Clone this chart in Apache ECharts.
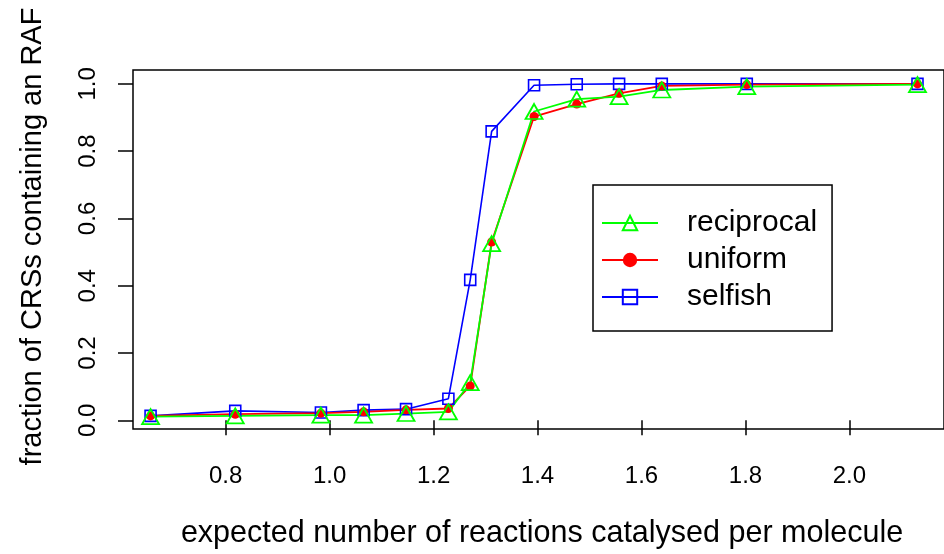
<!DOCTYPE html>
<html>
<head>
<meta charset="utf-8">
<title>RAF fraction</title>
<script src="https://cdn.jsdelivr.net/npm/echarts@6/dist/echarts.min.js"></script>
<style>
  html, body { margin: 0; padding: 0; background: #fff; }
  #main { width: 944px; height: 554px; }
</style>
</head>
<body>
<div id="main"></div>
<script>
// expected number of reactions catalysed per molecule
var xValues = [0.6556, 0.8185, 0.9833, 1.0654, 1.1470, 1.2285, 1.2705, 1.3117, 1.3933, 1.4754, 1.5569, 1.6390, 1.8025, 2.1309];
// fraction of CRSs containing an RAF
var reciprocal = [0.011, 0.013, 0.015, 0.015, 0.020, 0.025, 0.112, 0.525, 0.918, 0.955, 0.962, 0.982, 0.992, 0.998];
var uniform    = [0.013, 0.018, 0.021, 0.025, 0.031, 0.035, 0.102, 0.530, 0.903, 0.940, 0.972, 0.994, 0.998, 1.000];
var selfish    = [0.013, 0.028, 0.023, 0.030, 0.033, 0.064, 0.4175, 0.859, 0.996, 0.999, 1.000, 1.000, 1.000, 1.000];
var xTicks = [0.8, 1.0, 1.2, 1.4, 1.6, 1.8, 2.0];
var yTicks = [0.0, 0.2, 0.4, 0.6, 0.8, 1.0];

function pairs(ys) {
  return xValues.map(function (x, i) { return [x, ys[i]]; });
}

var font = 'Liberation Sans, Arial, sans-serif';

var option = {
  animation: false,
  textStyle: { fontFamily: font, color: '#000' },
  grid: {
    left: 133,
    top: 70,
    right: -6,
    bottom: 123.5,
    show: true,
    borderColor: '#000',
    borderWidth: 1.5
  },
  legend: {
    orient: 'vertical',
    left: 593,
    top: 185,
    padding: [23, 15, 19, 8],
    borderColor: '#000',
    borderWidth: 1.5,
    itemWidth: 56,
    itemHeight: 18,
    itemGap: 7,
    data: ['reciprocal', 'uniform', 'selfish'],
    textStyle: { fontFamily: font, fontSize: 30, lineHeight: 30, color: '#000', padding: [0, 0, 0, 24] }
  },
  xAxis: {
    type: 'value',
    min: 0.6218,
    max: 2.1819,
    name: 'expected number of reactions catalysed per molecule',
    nameLocation: 'middle',
    nameGap: 89,
    nameTextStyle: { fontFamily: font, fontSize: 30.5, color: '#000', padding: [0, 0, 0, 7] },
    axisLine: { show: false },
    splitLine: { show: false },
    axisTick: { show: true, length: 15, lineStyle: { color: '#000', width: 1.5 }, customValues: xTicks },
    axisLabel: {
      customValues: xTicks,
      margin: 35,
      fontSize: 24,
      color: '#000',
      formatter: function (v) { return v.toFixed(1); }
    }
  },
  yAxis: {
    type: 'value',
    min: -0.026,
    max: 1.0414,
    name: 'fraction of CRSs containing an RAF',
    nameLocation: 'middle',
    nameGap: 86,
    nameTextStyle: { fontFamily: font, fontSize: 29, color: '#000', padding: [0, 0, 0, 26] },
    axisLine: { show: false },
    splitLine: { show: false },
    axisTick: { show: true, length: 15, lineStyle: { color: '#000', width: 1.5 }, customValues: yTicks },
    axisLabel: {
      customValues: yTicks,
      rotate: 90,
      margin: 33,
      fontSize: 24,
      color: '#000',
      formatter: function (v) { return v.toFixed(1); }
    }
  },
  series: [
    {
      name: 'selfish',
      type: 'line',
      data: pairs(selfish),
      symbol: 'rect',
      symbolSize: 11,
      lineStyle: { color: '#0000ff', width: 1.6 },
      itemStyle: { color: 'rgba(0,0,0,0)', borderColor: '#0000ff', borderWidth: 1.6 }
    },
    {
      name: 'uniform',
      type: 'line',
      data: pairs(uniform),
      symbol: 'circle',
      symbolSize: 9,
      lineStyle: { color: '#ff0000', width: 1.8 },
      itemStyle: { color: '#ff0000' }
    },
    {
      name: 'reciprocal',
      type: 'line',
      data: pairs(reciprocal),
      symbol: 'triangle',
      symbolSize: [17, 15],
      lineStyle: { color: '#00ff00', width: 1.8 },
      itemStyle: { color: 'rgba(0,0,0,0)', borderColor: '#00ff00', borderWidth: 1.8 }
    }
  ]
};

var myChart = echarts.init(document.getElementById('main'));
myChart.setOption(option);
</script>
</body>
</html>
